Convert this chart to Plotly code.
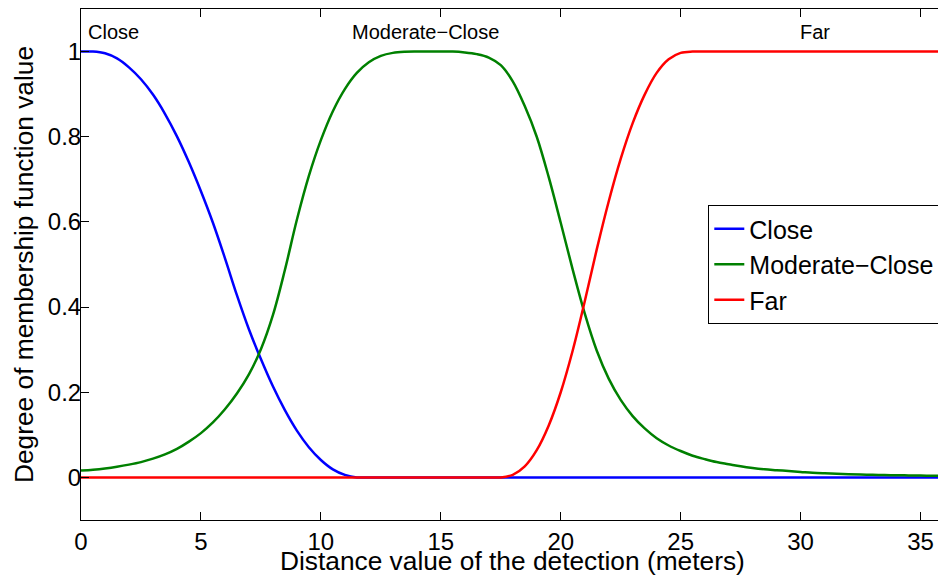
import plotly.graph_objects as go

# Distance grid (meters), step 0.5
distance = [i * 0.5 for i in range(73)]

close_vals = [1.000, 1.000, 0.996, 0.984, 0.963, 0.935, 0.899, 0.854, 0.801, 0.740,
              0.672, 0.598, 0.515, 0.428, 0.348, 0.278, 0.214, 0.158, 0.110, 0.071,
              0.041, 0.019, 0.006, 0.000] + [0.0] * 49

moderate_vals = [0.016, 0.018, 0.021, 0.025, 0.030, 0.036, 0.044, 0.054, 0.067, 0.084,
                 0.104, 0.129, 0.160, 0.197, 0.242, 0.301, 0.381, 0.487, 0.605, 0.708,
                 0.792, 0.860, 0.912, 0.950, 0.975, 0.990, 0.997, 0.9995, 1.000, 1.000,
                 1.000, 1.000, 0.998, 0.994, 0.986, 0.968, 0.930, 0.872, 0.800, 0.705,
                 0.598, 0.488, 0.385, 0.298, 0.232, 0.182, 0.144, 0.115, 0.092, 0.075,
                 0.062, 0.051, 0.043, 0.036, 0.031, 0.026, 0.022, 0.019, 0.017, 0.015,
                 0.013, 0.011, 0.0097, 0.0086, 0.0077, 0.0069, 0.0062, 0.0056, 0.0051, 0.0047,
                 0.0043, 0.0040, 0.0037]

far_vals = [0.0] * 36 + [0.006, 0.026, 0.064, 0.122, 0.200, 0.298, 0.413, 0.535, 0.648,
                         0.748, 0.832, 0.899, 0.950, 0.982, 0.997, 1.000] + [1.0] * 21

series_names = ["Close", "Moderate\u2212Close\u00a0\u00a0", "Far"]
series_colors = ["rgb(0,0,255)", "rgb(0,128,0)", "rgb(255,0,0)"]
series_values = [close_vals, moderate_vals, far_vals]

label_texts = ["Close", "Moderate\u2212Close", "Far"]
label_x = [0.2, 14.38, 30.6]
label_anchor = ["left", "center", "center"]
label_y = 1.046

x_ticks = [0, 5, 10, 15, 20, 25, 30, 35]
y_ticks = [0, 0.2, 0.4, 0.6, 0.8, 1]
y_ticktext = ["0", "0.2", "0.4", "0.6", "0.8", "1"]

FONT = "Liberation Sans, Arial, Helvetica, sans-serif"

fig = go.Figure()
for name, color, vals in zip(series_names, series_colors, series_values):
    fig.add_trace(go.Scatter(x=distance, y=vals, mode="lines", name=name,
                             line=dict(color=color, width=2.5, shape="spline", smoothing=1.0)))

for t, xx, anc in zip(label_texts, label_x, label_anchor):
    fig.add_annotation(x=xx, y=label_y, xref="x", yref="y", text=t, showarrow=False,
                       xanchor=anc, yanchor="middle",
                       font=dict(family=FONT, size=20, color="black"))

# Axis titles
fig.add_annotation(x=18, y=-0.0802, xref="x", yref="paper",
                   text="Distance value of the detection (meters)", showarrow=False,
                   xanchor="center", yanchor="middle",
                   font=dict(family=FONT, size=26.3, color="black"))
fig.add_annotation(x=(23.5 - 81) / 857, y=0.5, xref="paper", yref="y",
                   text="Degree of membership function value", showarrow=False,
                   textangle=-90, xanchor="center", yanchor="middle",
                   font=dict(family=FONT, size=26.3, color="black"))

fig.update_layout(
    width=938, height=579,
    margin=dict(l=81, r=0, t=9, b=59, autoexpand=False),
    paper_bgcolor="white", plot_bgcolor="white",
    font=dict(family=FONT, size=24, color="black"),
    showlegend=True,
    legend=dict(x=(708.3 - 81) / 857, y=(520 - 264.5) / 511, xanchor="left", yanchor="middle",
                bgcolor="white", bordercolor="black", borderwidth=1,
                font=dict(family=FONT, size=25, color="black"),
                tracegroupgap=0),
)
fig.update_xaxes(range=[0, 857 / 23.986], tickvals=x_ticks, ticks="inside", ticklen=8,
                 tickcolor="black", showline=True, linecolor="black", linewidth=1,
                 mirror="ticks", showgrid=False, zeroline=False,
                 tickfont=dict(family=FONT, size=24, color="black"))
fig.update_yaxes(range=[-0.1, 1.1], tickvals=y_ticks, ticktext=y_ticktext, ticks="inside",
                 ticklen=8, tickcolor="black", showline=True, linecolor="black", linewidth=1,
                 mirror=False, showgrid=False, zeroline=False, ticklabelstandoff=-6,
                 tickfont=dict(family=FONT, size=24, color="black"))

fig.write_html("out.html")
